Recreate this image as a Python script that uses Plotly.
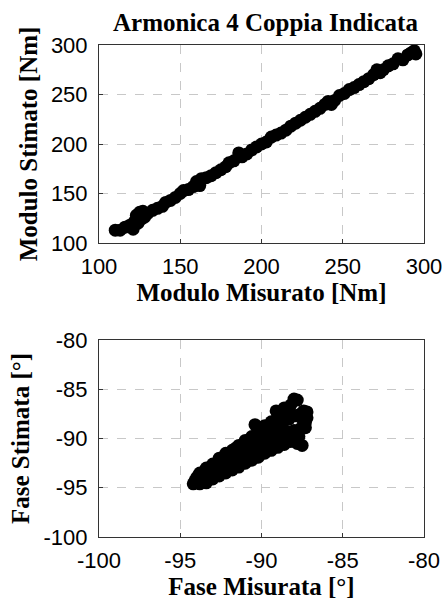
import plotly.graph_objects as go
from plotly.subplots import make_subplots

# modulo (Nm): measured vs estimated
mod_mis = [110, 113, 116, 119, 121, 122, 123, 124, 125, 126, 127, 128, 130, 133, 136, 139,
           141, 144, 147, 150, 152, 155, 158, 160, 162, 163, 166, 169, 172, 175, 178, 180,
           183, 186, 188, 191, 194, 197, 200, 203, 206, 209, 212, 215, 218, 221, 224, 227,
           230, 233, 236, 239, 241, 243, 245, 248, 251, 254, 257, 260, 263, 266, 269, 271,
           273, 275, 278, 281, 284, 287, 290, 292, 294, 295]
mod_sti = [113, 113, 116, 118, 114, 122, 128, 120, 131, 124, 132, 126, 130, 133, 135, 137,
           141, 143, 146, 150, 153, 154, 157, 162, 158, 165, 166, 168, 171, 174, 177, 181,
           183, 191, 187, 190, 194, 197, 200, 202, 207, 209, 211, 214, 218, 221, 224, 227,
           230, 233, 236, 240, 243, 240, 244, 249, 251, 255, 257, 260, 263, 266, 270, 275,
           272, 275, 279, 281, 286, 285, 290, 292, 294, 291]

# fase (deg): measured vs estimated
fase_mis = [-94.2, -93.8, -93.4, -93.0, -92.6, -92.2, -91.8, -91.4, -91.0, -90.6, -90.2, -89.8,
            -89.4, -89.0, -88.6, -88.2, -87.8, -87.5,
            -94.1, -93.7, -93.3, -92.9, -92.5, -92.1, -91.7, -91.3, -90.9, -90.5, -90.1, -89.7,
            -89.3, -88.9, -88.5, -88.1, -87.7,
            -94.0, -93.6, -93.2, -92.8, -92.4, -92.0, -91.6, -91.2, -90.8, -90.4, -90.0, -89.6,
            -89.2, -88.8, -88.4, -88.0, -87.6, -87.3,
            -93.9, -93.5, -93.1, -92.7, -92.3, -91.9, -91.5, -91.1, -90.7, -90.3, -89.9, -89.5,
            -89.1, -88.7, -88.3, -87.9, -87.5,
            -93.8, -93.4, -93.0, -92.6, -92.2, -91.8, -91.4, -91.0, -90.6, -90.2, -89.8, -89.4,
            -89.0, -88.6, -88.2, -87.8, -87.4, -87.2,
            -90.4, -88.0, -88.3, -87.2, -88.8, -89.4, -90.0, -91.6, -92.4, -93.1, -91.0, -89.6,
            -87.6, -87.3, -88.6, -89.1]
fase_sti = [-94.6, -94.6, -94.5, -94.1, -93.8, -93.5, -93.2, -92.9, -92.5, -92.2, -91.9, -91.5,
            -91.2, -90.9, -90.6, -90.3, -90.5, -90.7,
            -94.3, -94.1, -93.9, -93.5, -93.2, -92.9, -92.6, -92.2, -91.9, -91.5, -91.2, -90.9,
            -90.5, -90.2, -89.9, -89.7, -89.8,
            -94.0, -93.7, -93.3, -93.0, -92.6, -92.3, -91.9, -91.6, -91.2, -90.9, -90.5, -90.2,
            -89.8, -89.5, -89.3, -89.2, -89.0, -88.4,
            -93.8, -93.4, -93.0, -92.5, -92.1, -91.7, -91.3, -90.9, -90.5, -90.0, -89.6, -89.2,
            -88.7, -88.4, -88.0, -87.7, -88.0,
            -93.5, -93.0, -92.6, -92.0, -91.5, -91.2, -90.7, -90.2, -89.8, -89.1, -88.7, -88.3,
            -87.6, -87.4, -86.6, -86.1, -87.2, -87.9,
            -88.6, -86.0, -87.0, -87.3, -88.0, -89.0, -89.5, -91.0, -92.3, -93.4, -91.4, -89.6,
            -87.5, -88.9, -86.9, -87.2]

mod_ticks = [100, 150, 200, 250, 300]
fase_ticks = [-100, -95, -90, -85, -80]
fase_text = [str(v) for v in fase_ticks]

W, H = 444, 602


def px_x(p):
    return p / W


def px_y(p):
    return 1 - p / H


fig = make_subplots(rows=2, cols=1)

mk = dict(color="black", size=13, line=dict(width=0))
fig.add_trace(go.Scatter(x=mod_mis, y=mod_sti, mode="markers", marker=mk), row=1, col=1)
fig.add_trace(go.Scatter(x=fase_mis, y=fase_sti, mode="markers", marker=mk), row=2, col=1)

tick_font = dict(family="Liberation Sans", size=22, color="black")
title_font = dict(family="Liberation Serif", size=25, color="black")
ax = dict(showline=True, mirror=True, linecolor="#333", linewidth=1,
          showgrid=True, gridcolor="#c8c8c8", griddash="dash", gridwidth=1,
          zeroline=False, ticks="inside", ticklen=4, tickcolor="#333",
          tickfont=tick_font, title_font=title_font, automargin=False)

fig.update_xaxes(**ax, domain=[px_x(99), px_x(424)], ticklabelstandoff=4)
fig.update_yaxes(**ax, ticklabelstandoff=6)
fig.update_layout(
    xaxis=dict(range=[100, 300], tickvals=mod_ticks,
               title=dict(text="<b>Modulo Misurato [Nm]</b>", standoff=4)),
    yaxis=dict(range=[100, 300], tickvals=mod_ticks,
               domain=[px_y(243), px_y(45)],
               title=dict(text="<b>Modulo Stimato [Nm]</b>", standoff=6)),
    xaxis2=dict(range=[-100, -80], tickvals=fase_ticks, ticktext=fase_text,
                title=dict(text="<b>Fase Misurata [°]</b>", standoff=4)),
    yaxis2=dict(range=[-100, -80], tickvals=fase_ticks, ticktext=fase_text,
                domain=[px_y(537), px_y(340)],
                title=dict(text="<b>Fase Stimata [°]</b>", standoff=6)),
    annotations=[dict(text="<b>Armonica 4 Coppia Indicata</b>", x=px_x(265), y=px_y(23),
                      xref="paper", yref="paper", showarrow=False,
                      font=title_font, xanchor="center", yanchor="middle")],
    width=W, height=H, margin=dict(l=0, r=0, t=0, b=0),
    plot_bgcolor="white", paper_bgcolor="white", showlegend=False,
)

# drop the default page margin so the figure fills the window exactly
fig.write_html("out.html", config={"displayModeBar": False},
               post_script="document.body.style.margin='0';document.body.style.overflow='hidden';")
